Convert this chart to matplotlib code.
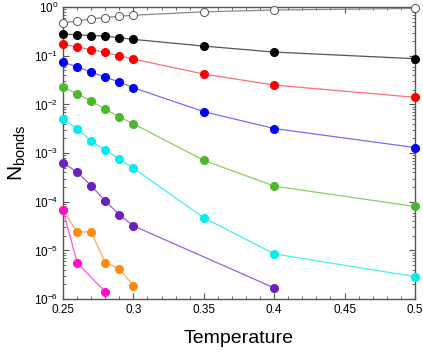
import matplotlib
matplotlib.use("Agg")
import matplotlib.pyplot as plt
from matplotlib.ticker import LogLocator, MultipleLocator, NullFormatter, FuncFormatter

plt.rcParams["font.family"] = ["Liberation Sans", "DejaVu Sans"]

# ===== data =====
T_full = [0.25, 0.26, 0.27, 0.28, 0.29, 0.30, 0.35, 0.40, 0.50]
T_purple = [0.25, 0.26, 0.27, 0.28, 0.29, 0.30, 0.40]
T_orange = [0.25, 0.26, 0.27, 0.28, 0.29, 0.30]
T_magenta = [0.25, 0.26, 0.28]

n_open = [0.47, 0.52, 0.57, 0.61, 0.65, 0.68, 0.80, 0.87, 0.94]
n_black = [0.279, 0.27, 0.26, 0.254, 0.234, 0.217, 0.158, 0.119, 0.087]
n_red = [0.174, 0.151, 0.133, 0.117, 0.100, 0.0855, 0.042, 0.025, 0.014]
n_blue = [0.074, 0.0596, 0.046, 0.0365, 0.0289, 0.022, 0.0071, 0.0032, 0.0013]
n_green = [0.0224, 0.0166, 0.0117, 0.0081, 0.0055, 0.0040, 0.00071, 0.00021, 0.000080]
n_cyan = [0.0050, 0.0032, 0.00177, 0.00116, 0.00076, 0.00049, 4.7e-5, 8.5e-6, 2.9e-6]
n_purple = [0.00063, 0.00041, 0.000214, 0.000104, 5.4e-5, 3.2e-5, 1.7e-6]
n_orange = [6.7e-5, 2.4e-5, 2.4e-5, 5.6e-6, 4.2e-6, 1.9e-6]
n_magenta = [6.7e-5, 5.6e-6, 1.4e-6]

fig = plt.figure(figsize=(4.23, 3.54), dpi=100)
ax = fig.add_axes([0.149, 0.155, 0.832, 0.825])

series = [
    (T_full, n_open, "#888888", "white", "#555555"),
    (T_full, n_black, "#555555", "black", "black"),
    (T_full, n_red, "#ff7070", "#ff0000", "#ff0000"),
    (T_full, n_blue, "#7070ff", "#0000ff", "#0000ff"),
    (T_full, n_green, "#88d060", "#4cb82c", "#4cb82c"),
    (T_full, n_cyan, "#40f0f0", "#00eeee", "#00eeee"),
    (T_purple, n_purple, "#9a60d8", "#6a22b8", "#6a22b8"),
    (T_orange, n_orange, "#ffaa50", "#ff8c10", "#ff8c10"),
    (T_magenta, n_magenta, "#ff55dd", "#ff10c8", "#ff10c8"),
]
for x, y, lc, fc, ec in series:
    ax.plot(x, y, "-", color=lc, lw=0.9, marker="o", ms=5.8,
            mfc=fc, mec=ec, mew=0.7, zorder=3, clip_on=False)

ax.set_yscale("log")
ax.set_xlim(0.25, 0.5)
ax.set_ylim(1e-6, 1)
ax.xaxis.set_major_locator(MultipleLocator(0.05))
ax.xaxis.set_minor_locator(MultipleLocator(0.01))
ax.xaxis.set_major_formatter(FuncFormatter(lambda v, p: f"{v:g}"))
ax.yaxis.set_major_locator(LogLocator(base=10, numticks=10))
ax.yaxis.set_minor_locator(LogLocator(base=10, subs=range(2, 10), numticks=20))
ax.yaxis.set_minor_formatter(NullFormatter())

ax.tick_params(which="both", direction="in", top=True, right=True,
               colors="#555555", labelcolor="black", labelsize=8.5)
ax.tick_params(which="major", length=4, width=0.8)
ax.tick_params(which="minor", length=2, width=0.6)
for s in ax.spines.values():
    s.set_color("#555555")
    s.set_linewidth(1.0)

ax.set_xlabel("Temperature", fontsize=14, labelpad=10)
ax.set_ylabel(r"N$_{\mathregular{bonds}}$", fontsize=15, labelpad=4)

fig.savefig("out.png", dpi=100)
